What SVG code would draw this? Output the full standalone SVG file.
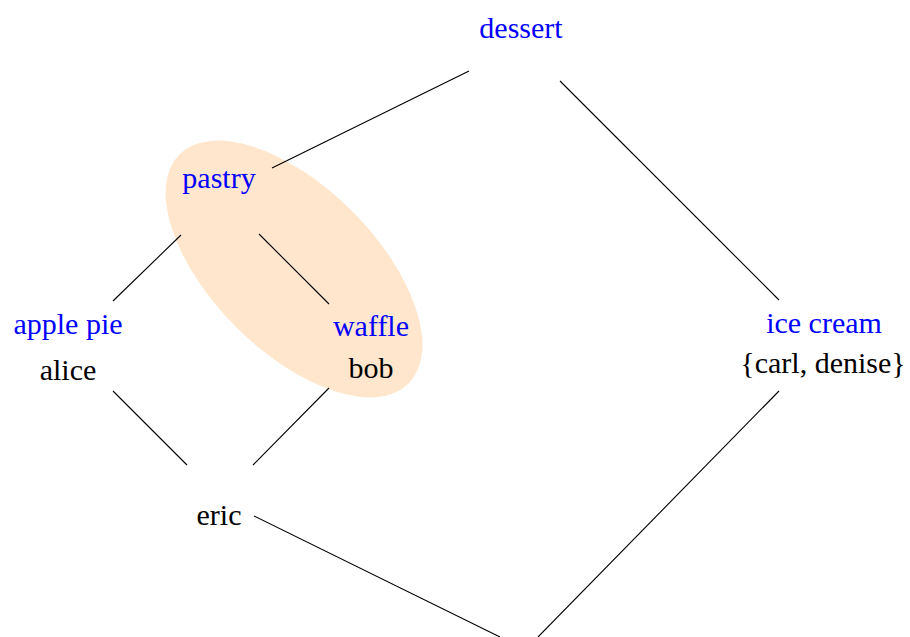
<svg xmlns="http://www.w3.org/2000/svg" width="910" height="637" viewBox="0 0 910 637">
<style>
text{font-family:"Liberation Serif","Times New Roman",serif;font-size:30px;text-anchor:middle}
.c{fill:#0000FF}
.k{fill:#000000}
.e{stroke:#000;stroke-width:1.1;fill:none}
</style>
<rect width="910" height="637" fill="#fff"/>
<ellipse id="highlight" cx="294" cy="269" rx="162" ry="82" transform="rotate(45 294 269)" fill="#FFE6CC"/>
<g id="connectors">
<line class="e" x1="469" y1="71" x2="272" y2="168"/>
<line class="e" x1="560" y1="81" x2="779" y2="300"/>
<line class="e" x1="181" y1="235" x2="113" y2="301"/>
<line class="e" x1="259" y1="234" x2="329" y2="304"/>
<line class="e" x1="113" y1="391" x2="187" y2="465"/>
<line class="e" x1="329" y1="388" x2="253" y2="465"/>
<line class="e" x1="254" y1="516" x2="500" y2="637"/>
<line class="e" x1="779" y1="391" x2="538" y2="637"/>
</g>
<g id="dessert"><text class="c" x="521" y="38">dessert</text></g>
<g id="pastry"><text class="c" x="219" y="188">pastry</text></g>
<g id="waffle"><text class="c" x="371" y="336">waffle</text><text class="k" x="371" y="378">bob</text></g>
<g id="applepie"><text class="c" x="68" y="334">apple pie</text><text class="k" x="68" y="380">alice</text></g>
<g id="icecream"><text class="c" x="824" y="333">ice cream</text><text class="k" x="823" y="373">{carl, denise}</text></g>
<g id="eric"><text class="k" x="219" y="525">eric</text></g>
</svg>
